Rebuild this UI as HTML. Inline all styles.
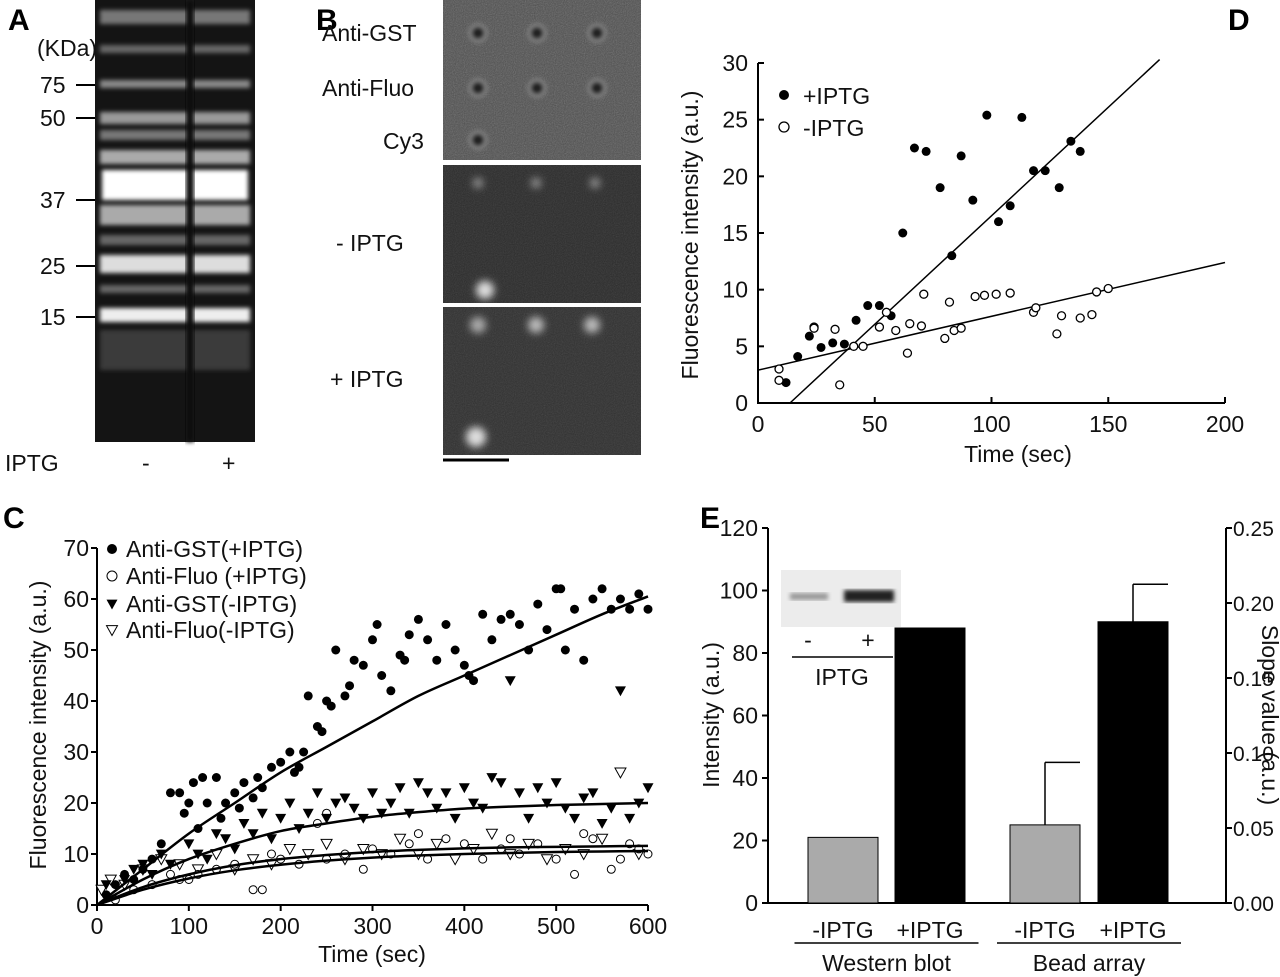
<!DOCTYPE html>
<html><head><meta charset="utf-8">
<style>
html,body{margin:0;padding:0;background:#fff;}
svg{display:block;font-family:"Liberation Sans",Arial,sans-serif;}
.t{font-size:23px;fill:#111;}
.L{font-size:30px;font-weight:bold;fill:#000;}
</style></head>
<body>
<svg id="fig" width="1280" height="977" viewBox="0 0 1280 977" xmlns="http://www.w3.org/2000/svg">
<defs>
<filter id="noise" x="0" y="0" width="100%" height="100%"><feTurbulence type="fractalNoise" baseFrequency="0.9" numOctaves="2" seed="3"/><feColorMatrix type="saturate" values="0"/><feComponentTransfer><feFuncA type="linear" slope="0.35"/></feComponentTransfer></filter>
<filter id="blur2"><feGaussianBlur stdDeviation="2"/></filter>
<filter id="blur4"><feGaussianBlur stdDeviation="4"/></filter>
</defs>

<!-- Panel A -->
<g>
<text class="L" x="8" y="30">A</text>
<rect x="95" y="0" width="160" height="442" fill="#141414"/>
<g filter="url(#blur2)">
<rect x="100" y="10" width="150" height="14" fill="#777"/>
<rect x="100" y="45" width="150" height="8" fill="#666"/>
<rect x="100" y="80" width="150" height="8" fill="#888"/>
<rect x="100" y="112" width="150" height="12" fill="#999"/>
<rect x="100" y="130" width="150" height="10" fill="#777"/>
<rect x="100" y="150" width="150" height="14" fill="#aaa"/>
<rect x="102" y="170" width="146" height="30" fill="#fff"/>
<rect x="100" y="205" width="150" height="20" fill="#aaa"/>
<rect x="100" y="235" width="150" height="10" fill="#666"/>
<rect x="100" y="255" width="150" height="18" fill="#ddd"/>
<rect x="100" y="285" width="150" height="8" fill="#666"/>
<rect x="100" y="308" width="150" height="14" fill="#eee"/>
<rect x="100" y="330" width="150" height="40" fill="#3a3a3a"/>
</g>
<rect x="186" y="0" width="8" height="442" fill="#111" filter="url(#blur2)"/>
<text class="t" x="37" y="56">(KDa)</text>
<g>
<text class="t" x="40" y="93">75</text><line x1="76" y1="85" x2="95" y2="85" stroke="#000" stroke-width="2"/>
<text class="t" x="40" y="126">50</text><line x1="76" y1="118" x2="95" y2="118" stroke="#000" stroke-width="2"/>
<text class="t" x="40" y="208">37</text><line x1="76" y1="200" x2="95" y2="200" stroke="#000" stroke-width="2"/>
<text class="t" x="40" y="274">25</text><line x1="76" y1="266" x2="95" y2="266" stroke="#000" stroke-width="2"/>
<text class="t" x="40" y="325">15</text><line x1="76" y1="317" x2="95" y2="317" stroke="#000" stroke-width="2"/>
</g>
<text class="t" x="5" y="471">IPTG</text>
<text class="t" x="142" y="471">-</text><text class="t" x="222" y="471">+</text>
</g>

<!-- Panel B -->
<g>
<text class="L" x="316" y="30">B</text>
<rect x="443" y="0" width="198" height="160" fill="#4e4e4e"/>
<rect x="443" y="0" width="198" height="160" filter="url(#noise)"/>
<rect x="443" y="165" width="198" height="138" fill="#2b2b2b"/>
<rect x="443" y="165" width="198" height="138" filter="url(#noise)" opacity="0.5"/>
<rect x="443" y="307" width="198" height="148" fill="#303030"/>
<rect x="443" y="307" width="198" height="148" filter="url(#noise)" opacity="0.5"/>
<g fill="#222" stroke="#888" stroke-width="3" filter="url(#blur2)">
<circle cx="478" cy="33" r="8"/><circle cx="537" cy="33" r="8"/><circle cx="597" cy="33" r="8"/>
<circle cx="478" cy="88" r="8"/><circle cx="537" cy="88" r="8"/><circle cx="597" cy="88" r="8"/>
<circle cx="478" cy="140" r="8"/>
</g>
<g fill="#999" filter="url(#blur4)">
<circle cx="485" cy="290" r="9" fill="#ddd"/><circle cx="478" cy="183" r="5"/><circle cx="536" cy="183" r="5"/><circle cx="595" cy="183" r="5"/>
<circle cx="476" cy="437" r="10" fill="#ddd"/><circle cx="478" cy="325" r="8" fill="#aaa"/><circle cx="536" cy="325" r="8" fill="#bbb"/><circle cx="592" cy="325" r="8" fill="#bbb"/>
</g>
<text class="t" x="322" y="41">Anti-GST</text>
<text class="t" x="322" y="96">Anti-Fluo</text>
<text class="t" x="383" y="149">Cy3</text>
<text class="t" x="336" y="251">- IPTG</text>
<text class="t" x="330" y="387">+ IPTG</text>
<line x1="443" y1="460" x2="509" y2="460" stroke="#000" stroke-width="3"/>
</g>

<g id="pd"></g>
<g id="pc"></g>
<g id="pe"></g>
</svg>
<script>
// ---------- Panel D data ----------
const dPlusT=[12,17,22,27,32,37,42,47,52,57,62,67,72,78,83,87,92,98,103,108,113,118,123,129,134,138];
const dPlusV=[1.8,4.1,5.9,4.9,5.3,5.2,7.3,8.6,8.6,7.7,15,22.5,22.2,19,13,21.8,17.9,25.4,16,17.4,25.2,20.5,20.5,19,23.1,22.2];
const dMinusT=[9,9,24,24,33,35,41,45,52,55,59,64,65,70,71,80,82,84,87,93,97,102,108,118,119,128,130,138,143,145,150];
const dMinusV=[3,2,6.7,6.6,6.5,1.6,5,5,6.7,8,6.4,4.4,7,6.8,9.6,5.7,8.9,6.4,6.6,9.4,9.5,9.6,9.7,8,8.4,6.1,7.7,7.5,7.8,9.8,10.1];
const dPlusFit=[13.7,0,172,30.3];
const dMinusFit=[0,2.9,200,12.4];
const dXTicks=[0,50,100,150,200];
const dYTicks=[0,5,10,15,20,25,30];
// ---------- Panel C data ----------
const cGstPlusT=[10,20,30,40,50,60,70,80,90,95,100,105,110,115,120,130,135,140,150,155,160,170,175,180,190,200,210,215,220,225,230,240,245,250,255,260,270,275,280,290,300,305,310,320,330,335,340,350,360,370,380,390,400,405,410,420,430,440,450,460,470,480,490,500,505,510,520,530,540,550,560,570,580,590,600];
const cGstPlusV=[2,4,6,5,7,9,12,22,22,18,20,24,15,25,20,25,17,20,22,19,24,21,25,23,27,28,30,26,27,30,41,35,34,40,39,50,41,43,48,47,52,55,45,42,49,48,53,56,52,48,55,50,47,45,44,57,52,56,57,55,50,59,54,62,62,50,58,48,60,62,58,60,58,61,58];
const cGstMinusT=[10,30,40,50,60,70,80,100,110,120,130,140,150,160,170,180,190,200,210,220,230,240,250,260,270,280,290,300,310,320,330,340,350,360,370,380,390,400,410,420,430,440,450,460,470,480,490,500,510,520,530,540,550,560,570,580,590,600];
const cGstMinusV=[4,5,7,8,6,10,8,12,10,9,14,13,11,16,14,18,13,17,20,15,18,22,17,20,21,19,17,22,18,20,23,18,24,22,19,22,17,23,20,19,25,24,44,22,17,23,20,24,19,17,21,22,16,19,42,17,20,23];
const cFluoPlusT=[20,40,60,80,90,100,110,130,150,170,180,190,200,220,240,250,250,270,290,300,320,340,350,360,380,400,420,440,450,460,480,500,520,530,540,560,570,580,590,600];
const cFluoPlusV=[1,3,4,6,5,5,6,7,8,3,3,10,9,8,16,18,9,10,7,11,10,12,14,9,13,12,9,11,13,10,12,9,6,14,13,7,9,12,11,10];
const cFluoMinusT=[5,15,30,50,70,90,110,130,150,170,190,210,230,250,270,290,310,330,350,370,390,410,430,450,470,490,510,530,550,570,590];
const cFluoMinusV=[3,5,4,7,9,8,7,10,7,9,8,11,10,12,9,11,10,13,10,12,9,11,14,10,12,9,11,10,13,26,10];
const cFitT=[0,50,100,150,200,250,300,350,400,450,500,550,600];
const cFitGstPlus=[0,7,14,20,26,31,36,41,45,49,53,57,60.5];
const cFitGstMinus=[0,5,9,12,14.5,16,17.3,18.2,18.9,19.3,19.6,19.8,20];
const cFitFluoPlus=[0,3.5,6,7.8,9,9.8,10.4,10.8,11.1,11.3,11.4,11.5,11.6];
const cFitFluoMinus=[0,3,5.2,6.8,7.9,8.7,9.3,9.7,10,10.2,10.4,10.5,10.6];
const cXTicks=[0,100,200,300,400,500,600];
const cYTicks=[0,10,20,30,40,50,60,70];
// ---------- Panel E data ----------
const eCats=["-IPTG","+IPTG","-IPTG","+IPTG"];
const eValues=[21,88,25,90];
const eErrTop=[null,null,45,102];
const eColors=["#aaa","#000","#aaa","#000"];
const eYTicks=[0,20,40,60,80,100,120];
const eY2Ticks=["0.00","0.05","0.10","0.15","0.20","0.25"];
const eGroups=["Western blot","Bead array"];

const NS="http://www.w3.org/2000/svg";
function mk(parent,tag,attrs,text){const e=document.createElementNS(NS,tag);for(const k in attrs)e.setAttribute(k,attrs[k]);if(text!==undefined)e.textContent=text;parent.appendChild(e);return e;}
// smooth path through points (Catmull-Rom)
function smooth(pts){let d=`M${pts[0][0]} ${pts[0][1]}`;for(let i=0;i<pts.length-1;i++){const p0=pts[Math.max(0,i-1)],p1=pts[i],p2=pts[i+1],p3=pts[Math.min(pts.length-1,i+2)];
d+=` C${p1[0]+(p2[0]-p0[0])/6} ${p1[1]+(p2[1]-p0[1])/6} ${p2[0]-(p3[0]-p1[0])/6} ${p2[1]-(p3[1]-p1[1])/6} ${p2[0]} ${p2[1]}`;}return d;}

// ===== Panel D =====
(function(){
const g=document.getElementById('pd');
const x=t=>758+t*(467/200), y=v=>403-v*(340/30);
const lab=mk(g,'text',{class:'L',x:1228,y:30},'D');


const ax=mk(g,'path',{d:`M758 ${y(30)} V403 H1225`,fill:'none',stroke:'#000','stroke-width':2});


dXTicks.forEach(t=>{mk(g,'line',{x1:x(t),x2:x(t),y1:403,y2:397,stroke:'#000','stroke-width':2});
 const tl=mk(g,'text',{class:'t',x:x(t),y:432,'text-anchor':'middle'},t);
 
 });
dYTicks.forEach(v=>{mk(g,'line',{x1:758,x2:764,y1:y(v),y2:y(v),stroke:'#000','stroke-width':2});
 const tl=mk(g,'text',{class:'t',x:748,y:y(v)+8,'text-anchor':'end'},v);
 
 });
const xt=mk(g,'text',{class:'t',x:1018,y:462,'text-anchor':'middle'},'Time (sec)');


const yt=mk(g,'text',{class:'t',x:0,y:0,'text-anchor':'middle',transform:`translate(698,235) rotate(-90)`},'Fluorescence intensity (a.u.)');


const f1=mk(g,'line',{x1:x(dPlusFit[0]),y1:y(dPlusFit[1]),x2:x(dPlusFit[2]),y2:y(dPlusFit[3]),stroke:'#000','stroke-width':1.5});


const f2=mk(g,'line',{x1:x(dMinusFit[0]),y1:y(dMinusFit[1]),x2:x(dMinusFit[2]),y2:y(dMinusFit[3]),stroke:'#000','stroke-width':1.5});


dPlusT.forEach((t,i)=>{const c=mk(g,'circle',{cx:x(t),cy:y(dPlusV[i]),r:4.5,fill:'#000'});
 
 });
dMinusT.forEach((t,i)=>{const c=mk(g,'circle',{cx:x(t),cy:y(dMinusV[i]),r:4,fill:'#fff',stroke:'#000','stroke-width':1.3});
 
 });
const l1=mk(g,'circle',{cx:784,cy:95,r:5,fill:'#000'});


mk(g,'text',{class:'t',x:803,y:104},'+IPTG');
const l2=mk(g,'circle',{cx:784,cy:127,r:5,fill:'#fff',stroke:'#000','stroke-width':1.3});


mk(g,'text',{class:'t',x:803,y:136},'-IPTG');
})();

// ===== Panel C =====
(function(){
const g=document.getElementById('pc');
const x=t=>97+t*(551/600), y=v=>905-v*(357/70);
const lab=mk(g,'text',{class:'L',x:3,y:528},'C');


const ax=mk(g,'path',{d:`M97 ${y(70)} V905 H648`,fill:'none',stroke:'#000','stroke-width':2});


cXTicks.forEach(t=>{mk(g,'line',{x1:x(t),x2:x(t),y1:905,y2:911,stroke:'#000','stroke-width':2});
 const tl=mk(g,'text',{class:'t',x:x(t),y:934,'text-anchor':'middle'},t);
 
 });
cYTicks.forEach(v=>{mk(g,'line',{x1:91,x2:97,y1:y(v),y2:y(v),stroke:'#000','stroke-width':2});
 const tl=mk(g,'text',{class:'t',x:89,y:y(v)+8,'text-anchor':'end'},v);
 
 });
const xt=mk(g,'text',{class:'t',x:372,y:962,'text-anchor':'middle'},'Time (sec)');


const yt=mk(g,'text',{class:'t',x:0,y:0,'text-anchor':'middle',transform:`translate(46,725) rotate(-90)`},'Fluorescence intensity (a.u.)');


function tri(cx,cy,down){const s=5.5;return down?`${cx-s},${cy-s*0.8} ${cx+s},${cy-s*0.8} ${cx},${cy+s}`:`${cx-s},${cy+s*0.8} ${cx+s},${cy+s*0.8} ${cx},${cy-s}`;}
cFluoMinusT.forEach((t,i)=>{const p=mk(g,'polygon',{points:tri(x(t),y(cFluoMinusV[i]),true),fill:'#fff',stroke:'#000','stroke-width':1});
 
 });
cFluoPlusT.forEach((t,i)=>{const c=mk(g,'circle',{cx:x(t),cy:y(cFluoPlusV[i]),r:4,fill:'#fff',stroke:'#000','stroke-width':1});
 
 });
cGstMinusT.forEach((t,i)=>{const p=mk(g,'polygon',{points:tri(x(t),y(cGstMinusV[i]),true),fill:'#000'});
 
 });
cGstPlusT.forEach((t,i)=>{const c=mk(g,'circle',{cx:x(t),cy:y(cGstPlusV[i]),r:4.5,fill:'#000'});
 
 });
[[cFitGstPlus,'c-fit-gst-plus'],[cFitGstMinus,'c-fit-gst-minus'],[cFitFluoPlus,'c-fit-fluo-plus'],[cFitFluoMinus,'c-fit-fluo-minus']].forEach(([arr,nm])=>{
 const p=mk(g,'path',{d:smooth(cFitT.map((t,i)=>[x(t),y(arr[i])])),fill:'none',stroke:'#000','stroke-width':2.5});
 
 });
const lg=mk(g,'g',{});


mk(lg,'circle',{cx:112,cy:549,r:5,fill:'#000'});
mk(lg,'text',{class:'t',x:126,y:557},'Anti-GST(+IPTG)');
mk(lg,'circle',{cx:112,cy:576,r:5,fill:'#fff',stroke:'#000'});
mk(lg,'text',{class:'t',x:126,y:584},'Anti-Fluo (+IPTG)');
mk(lg,'polygon',{points:tri(112,604,true),fill:'#000'});
mk(lg,'text',{class:'t',x:126,y:612},'Anti-GST(-IPTG)');
mk(lg,'polygon',{points:tri(112,630,true),fill:'#fff',stroke:'#000'});
mk(lg,'text',{class:'t',x:126,y:638},'Anti-Fluo(-IPTG)');
})();

// ===== Panel E =====
(function(){
const g=document.getElementById('pe');
const y=v=>903-v*(375/120);
const xs=[843,930,1045,1133], bw=70;
const lab=mk(g,'text',{class:'L',x:700,y:528},'E');


const ax=mk(g,'path',{d:`M768 ${y(120)} V903 H1226 V${y(120)}`,fill:'none',stroke:'#000','stroke-width':2});


eYTicks.forEach(v=>{mk(g,'line',{x1:762,x2:768,y1:y(v),y2:y(v),stroke:'#000','stroke-width':2});
 const tl=mk(g,'text',{class:'t',x:758,y:y(v)+8,'text-anchor':'end'},v);
 
 });
eY2Ticks.forEach((s,i)=>{const yy=903-i*75;mk(g,'line',{x1:1226,x2:1232,y1:yy,y2:yy,stroke:'#000','stroke-width':2});
 const tl=mk(g,'text',{class:'t',x:1233,y:yy+8,style:'font-size:21px'},s);
 
 });
const yt=mk(g,'text',{class:'t',x:0,y:0,'text-anchor':'middle',transform:`translate(719,715) rotate(-90)`},'Intensity (a.u.)');


const yt2=mk(g,'text',{class:'t',x:0,y:0,'text-anchor':'middle',transform:`translate(1262,715) rotate(90)`},'Slope value (a.u.)');


eValues.forEach((v,i)=>{
 if(eErrTop[i]!==null){const el=mk(g,'path',{d:`M${xs[i]} ${y(v)} V${y(eErrTop[i])} M${xs[i]} ${y(eErrTop[i])} H${xs[i]+bw/2}`,stroke:'#000','stroke-width':1.5,fill:'none'});
  
  }
 const r=mk(g,'rect',{x:xs[i]-bw/2,y:y(v),width:bw,height:903-y(v),fill:eColors[i],stroke:'#000','stroke-width':1});
 
 
 const tl=mk(g,'text',{class:'t',x:xs[i],y:938,'text-anchor':'middle'},eCats[i]);
 
 
});
eGroups.forEach((s,i)=>{const cx=(xs[2*i]+xs[2*i+1])/2;
 mk(g,'line',{x1:cx-92,x2:cx+92,y1:943,y2:943,stroke:'#000','stroke-width':1.5});
 const tl=mk(g,'text',{class:'t',x:cx,y:971,'text-anchor':'middle'},s);
 
 });
const ins=mk(g,'g',{});


mk(ins,'rect',{x:781,y:570,width:120,height:57,fill:'#ececec'});
mk(ins,'rect',{x:790,y:593,width:38,height:7,fill:'#999',filter:'url(#blur2)'});
mk(ins,'rect',{x:844,y:590,width:50,height:12,fill:'#222',filter:'url(#blur2)'});
mk(ins,'text',{class:'t',x:808,y:648,'text-anchor':'middle'},'-');
mk(ins,'text',{class:'t',x:868,y:648,'text-anchor':'middle'},'+');
mk(ins,'line',{x1:792,x2:893,y1:657,y2:657,stroke:'#000','stroke-width':1.5});
mk(ins,'text',{class:'t',x:842,y:685,'text-anchor':'middle'},'IPTG');
})();
</script>
</body></html>
